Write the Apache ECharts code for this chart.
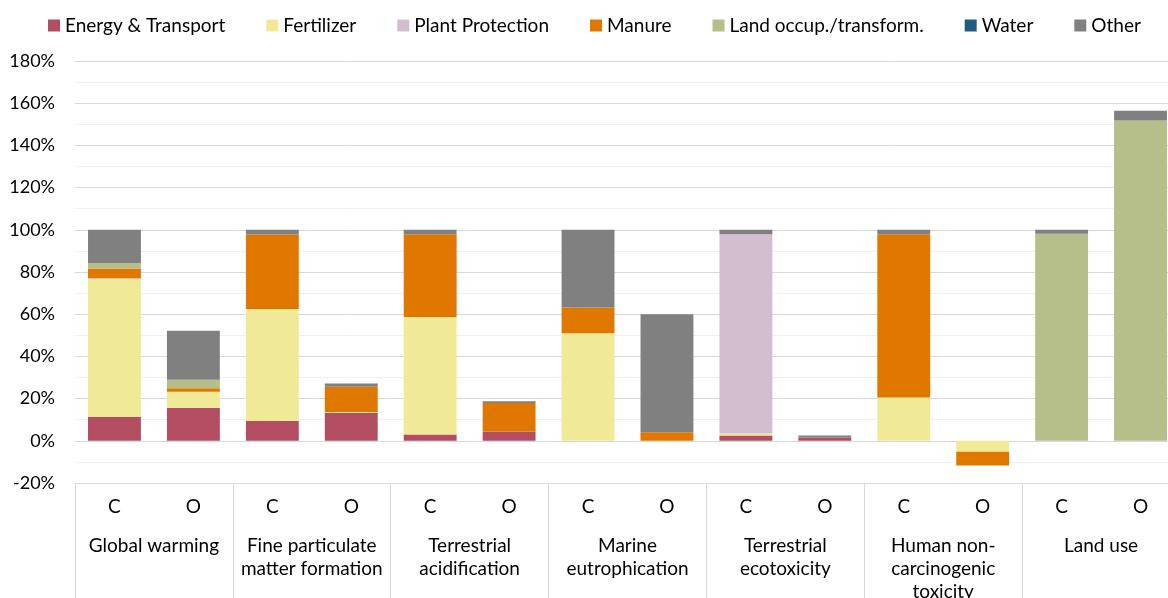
<!DOCTYPE html>
<html>
<head>
<meta charset="utf-8">
<script src="https://cdn.jsdelivr.net/npm/echarts@6/dist/echarts.min.js"></script>
<style>html,body{margin:0;padding:0;background:#fff}#c{width:1168px;height:598px}</style>
</head>
<body>
<div id="c"></div>
<script>
const subCats = ['C','O','C','O','C','O','C','O','C','O','C','O','C','O'];
const groups = ['Global warming','Fine particulate\nmatter formation','Terrestrial\nacidification','Marine\neutrophication','Terrestrial\necotoxicity','Human non-\ncarcinogenic\ntoxicity','Land use'];
const yTicks = {min: -20, max: 180, interval: 20};

const energy     = [11.3, 15.7, 9.4, 13.3, 3.0, 4.4, 0, 0, 2.5, 1.6, 0, 0, 0, 0];
const fertilizer = [65.4, 7.6, 53.1, 0.3, 55.7, 0, 51.0, 0, 1.0, 0, 20.5, -5.2, 0, 0];
const plantProt  = [0.5, 0, 0, 0, 0, 0, 0, 0, 94.4, 0, 0, 0, 0, 0];
const manure     = [4.4, 1.6, 35.3, 12.0, 39.2, 13.5, 12.2, 4.0, 0, 0, 77.4, -6.5, 0, 0];
const landOcc    = [2.7, 4.0, 0, 0, 0, 0, 0, 0, 0, 0, 0, 0, 98.1, 151.8];
const water      = [0, 0, 0, 0, 0, 0, 0, 0, 0, 0, 0, 0, 0, 0];
const other      = [15.7, 23.2, 2.2, 1.5, 2.1, 0.8, 36.8, 56.0, 2.1, 0.9, 2.1, 0, 1.9, 4.6];

const seriesDefs = [
  ['Energy & Transport', energy, '#B34D62'],
  ['Fertilizer', fertilizer, '#F0EA96'],
  ['Plant Protection', plantProt, '#D3BECF'],
  ['Manure', manure, '#E07800'],
  ['Land occup./transform.', landOcc, '#B6BF8A'],
  ['Water', water, '#1F5C80'],
  ['Other', other, '#808080']
];

const FONT = 'Lato';
const chart = echarts.init(document.getElementById('c'), null, {renderer: 'canvas'});
chart.setOption({
  animation: false,
  textStyle: {fontFamily: FONT, color: '#000'},
  legend: {
    left: 43, top: 11,
    itemWidth: 12, itemHeight: 12, icon: 'rect', itemGap: 41,
    textStyle: {fontFamily: FONT, fontSize: 19, color: '#000'},
    data: seriesDefs.map(d => d[0])
  },
  grid: {left: 75, right: -12, top: 61, bottom: 115, containLabel: false, outerBoundsMode: 'none'},
  yAxis: {
    type: 'value', min: yTicks.min, max: yTicks.max, interval: yTicks.interval,
    axisLine: {show: false}, axisTick: {show: false},
    axisLabel: {formatter: '{value}%', fontSize: 18, color: '#000', margin: 20, fontFamily: FONT},
    splitLine: {lineStyle: {color: '#d9d9d9', width: 1}},
    minorTick: {show: false, splitNumber: 2},
    minorSplitLine: {show: true, lineStyle: {color: '#f0f0f0', width: 1}}
  },
  xAxis: [
    {
      type: 'category', data: subCats, position: 'bottom',
      axisLine: {show: false}, axisTick: {show: false},
      axisLabel: {interval: 0, fontSize: 19, color: '#000', margin: 14, fontFamily: FONT}
    },
    {
      type: 'category', data: groups, position: 'bottom',
      axisLine: {show: true, lineStyle: {color: '#d9d9d9', width: 1}},
      axisTick: {show: true, length: 115, interval: 0, lineStyle: {color: '#d9d9d9', width: 1}},
      axisLabel: {interval: 0, fontSize: 19, lineHeight: 23, color: '#000', margin: 51, fontFamily: FONT}
    }
  ],
  series: seriesDefs.map(d => ({
    name: d[0], type: 'bar', stack: 'total', xAxisIndex: 0,
    barWidth: '67%', data: d[1],
    itemStyle: {color: d[2]}
  }))
});
</script>
</body>
</html>
